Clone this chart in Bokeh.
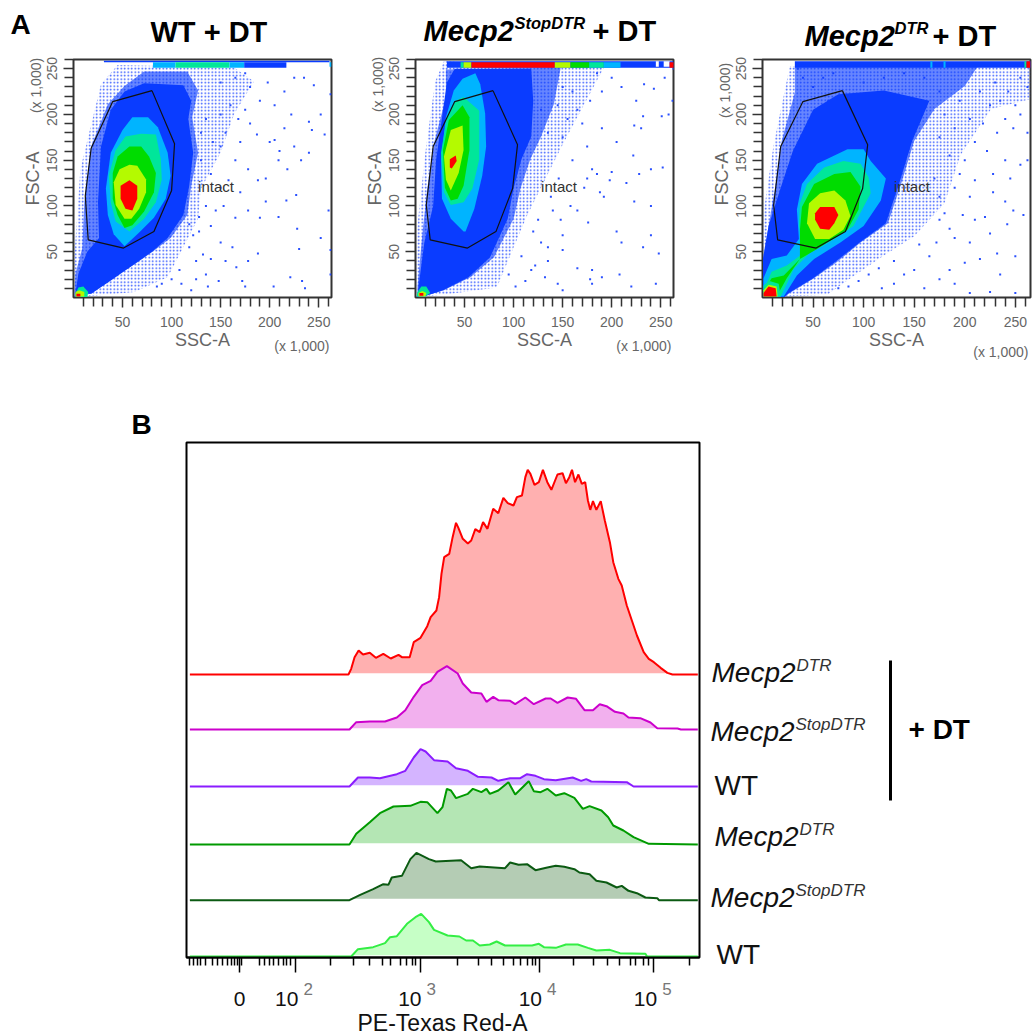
from bokeh.embed import file_html
from bokeh.resources import INLINE
from bokeh.plotting import figure
from bokeh.layouts import row, column
from bokeh.models import Label, FixedTicker, Range1d
from bokeh.core.properties import value
import math

FONT = "Liberation Sans"
C_SPECK, C_BLUE, C_CYAN, C_AQUA, C_GREEN, C_YELLOW, C_RED = "#2a50ff", "#0a3cff", "#00b4ff", "#00e69a", "#00dc00", "#b4fa00", "#ff0000"

# ---------- panel A: density bands (SSC-A, FSC-A, x1000) ----------
wt_fringe = [(0,0),(1,47),(7,140),(28,233),(45,254),(164,251),(184,236),(164,201),(150,158),(130,119),(127,86),(110,51),(96,22),(62,6),(21,2)]
wt_dense = [(1,1),(2,26),(9,54),(11,104),(18,165),(35,211),(52,231),(72,247),(116,247),(127,226),(121,197),(127,158),(120,122),(116,90),(99,65),(82,51),(62,36),(41,22),(18,4)]
wt_blue = [(2,5),(5,26),(14,50),(26,65),(25,104),(28,165),(38,205),(52,225),(72,234),(112,232),(120,215),(117,195),(122,158),(118,122),(112,90),(96,65),(80,50),(60,35),(40,20),(18,4)]
wt_cyan = [(41,69),(35,90),(33,119),(38,158),(50,183),(60,197),(76,197),(86,186),(96,158),(99,133),(94,108),(82,87),(68,72),(52,56)]
wt_aqua = [(43,83),(38,104),(36,133),(43,161),(53,176),(69,179),(84,178),(89,151),(90,129),(84,104),(72,86),(57,72)]
wt_green = [(45,90),(40,108),(40,136),(45,154),(57,165),(69,165),(77,154),(84,136),(82,115),(72,94),(60,79),(52,76)]
wt_yellow = [(52,86),(43,101),(41,126),(47,140),(57,145),(65,144),(74,129),(74,115),(67,97),(59,86)]
wt_red = [(53,97),(48,108),(48,122),(57,128),(65,122),(65,108),(60,95)]
wt_debris = [[(2,1),(2,4),(5,11),(10,12),(15,6),(14,0)], [(2,1),(2,6),(6,8),(11,6),(11,1)], [(3,1),(3,4),(7,4),(7,1)]]
wt_strip = [(31,261,257,258.5,C_BLUE),(81,104,251,257,C_CYAN),(104,159,251,257,C_AQUA),(159,174,251,257,C_CYAN),(174,217,251,257,C_BLUE),(261,263,252,257,C_CYAN)]
wt_dots = [(245,232),(252,200),(240,192),(222,200),(243,183),(262,222),(256,178),(225,165),(240,158),(210,160),(200,170),(187,178),(205,172),(215,185),(232,150),(218,140),(178,140),(188,128),(196,105),(227,112),(217,106),(190,87),(209,88),(228,75),(252,65),(230,53),(262,52),(221,22),(233,18),(236,10),(204,12),(172,18),(175,12),(166,33),(178,40),(188,48),(155,40),(140,42),(132,47),(125,40),(118,55),(140,78),(128,72),(150,60),(162,55),(145,95),(153,100),(165,87),(178,95),(196,130),(209,150),(260,95),(262,25),(148,18),(137,12),(120,8),(110,15),(100,20),(108,30),(90,15),(85,12),(125,20),(135,25),(122,68),(118,80),(135,100),(128,88),(150,120),(170,115),(158,128),(140,135),(165,150),(150,165),(130,150),(142,170),(130,180),(155,180),(170,170),(180,190),(168,195),(150,200),(135,195),(160,210),(175,205),(190,215),(205,210),(215,225),(198,235),(225,240),(235,240),(180,230),(165,240),(150,235),(175,245)]
wt_gate = [(80,226),(103,168),(100,117),(82,72),(51,54),(15,63),(12,111),(18,163),(40,214)]

stop_fringe = [(0,0),(1,69),(10,158),(20,236),(29,258),(158,251),(192,251),(172,211),(151,169),(134,133),(114,90),(97,47),(83,11),(36,4)]
stop_dense = [(2,0),(2,11),(7,69),(12,119),(19,169),(31,219),(31,249),(148,251),(141,211),(128,176),(117,151),(107,119),(100,86),(80,44),(56,22),(29,8),(5,0)]
stop_blue = [(2,0),(3,11),(9,60),(18,100),(21,150),(32,235),(40,250),(118,250),(120,215),(118,176),(108,151),(100,119),(94,86),(76,44),(54,22),(28,8),(5,0)]
stop_cyan = [(49,72),(36,86),(27,108),(26,151),(31,197),(39,226),(48,239),(61,245),(66,233),(71,201),(72,165),(68,133),(60,97),(51,72)]
stop_aqua = [(36,101),(29,115),(26,158),(32,197),(41,215),(49,219),(65,204),(65,151),(58,119),(49,104)]
stop_green = [(36,106),(30,120),(28,161),(34,194),(48,210),(55,197),(55,161),(49,122),(43,108)]
stop_yellow = [(36,117),(31,129),(29,154),(36,183),(48,188),(49,161),(44,136)]
stop_red = [(35,142),(35,151),(41,155),(42,149),(37,141)]
stop_debris = [[(1,1),(2,6),(6,12),(11,12),(15,5),(10,1)], [(3,1),(3,5),(7,7),(11,5),(10,1)], [(4,2),(4,5),(8,5),(8,2)]]
stop_strip = [(32,263,251,258,C_BLUE),(46,49,251,257,C_AQUA),(49,57,251,257,C_YELLOW),(57,142,251,257,C_RED),(142,158,251,257,C_YELLOW),(158,177,251,257,C_GREEN),(177,192,251,257,C_AQUA),(192,209,251,257,C_CYAN),(245,248,252,258,"#ffffff"),(253,259,252,258,"#ffffff"),(259,264,251,257,C_RED)]
stop_dots = [(233,233),(243,228),(254,240),(262,215),(251,198),(258,200),(232,198),(230,185),(223,188),(190,185),(205,170),(222,155),(240,140),(252,142),(228,135),(185,135),(200,137),(180,140),(175,130),(188,115),(192,110),(223,105),(158,100),(165,95),(176,82),(205,72),(210,60),(240,68),(248,48),(232,55),(148,85),(140,95),(150,68),(128,60),(135,55),(150,52),(135,40),(122,35),(118,30),(132,22),(145,15),(150,8),(178,20),(180,15),(190,22),(220,12),(245,15),(208,25),(180,30),(165,32),(112,18),(102,12),(95,25),(108,45),(120,72),(125,85),(138,110),(146,130),(160,150),(172,120),(150,175),(170,190),(165,205),(178,215),(190,225),(150,230),(185,245),(210,230),(225,215),(155,195),(135,180),(145,210),(128,205),(240,100),(263,250),(198,128),(215,125),(175,165),(160,225),(200,240)]
stop_gate = [(79,226),(104,167),(99,119),(82,72),(53,54),(15,63),(11,101),(18,165),(40,214)]

dtr_fringe = [(0,0),(1,92),(11,167),(27,253),(266,253),(266,217),(226,206),(196,156),(180,103),(150,67),(120,46),(87,21),(64,3)]
dtr_dense = [(0,0),(0,39),(6,78),(13,124),(19,171),(32,224),(32,253),(213,253),(200,231),(170,206),(150,171),(137,124),(124,81),(97,60),(74,39),(51,21),(27,5),(21,0)]
dtr_blue = [(0,0),(0,39),(6,78),(18,120),(30,160),(50,205),(75,222),(120,226),(165,215),(148,171),(135,124),(122,81),(96,60),(72,39),(50,21),(26,5),(21,0)]
dtr_cyan = [(1,21),(9,42),(24,46),(36,64),(34,96),(39,124),(54,146),(84,162),(100,162),(107,149),(122,130),(117,106),(100,78),(77,60),(51,42),(34,24),(21,1),(1,1)]
dtr_aqua = [(2,10),(9,28),(24,35),(41,49),(36,78),(37,103),(44,124),(61,142),(80,149),(97,146),(105,131),(107,114),(90,78),(71,64),(47,49),(31,31),(18,1),(2,1)]
dtr_green = [(2,9),(9,21),(21,24),(37,42),(37,74),(39,99),(51,124),(71,135),(87,137),(97,121),(95,96),(84,74),(54,53),(37,42),(24,21),(14,1),(3,1)]
dtr_yellow = [(52,64),(44,81),(46,103),(57,114),(71,117),(82,106),(87,89),(80,74),(66,64)]
dtr_red = [(52,85),(52,92),(57,99),(71,99),(75,90),(71,81),(66,74),(57,75)]
dtr_debris = [[(1,1),(1,13),(7,18),(16,15),(18,1)], [(1,1),(1,8),(6,14),(14,12),(15,1)], [(1,1),(1,5),(6,12),(13,10),(14,1)]]
dtr_strip = [(32,266,251,258,C_BLUE),(166,168,251,258,C_CYAN),(179,181,251,258,C_CYAN),(259,261,251,258,C_AQUA),(261,265,251,258,C_RED)]
dtr_dots = [(262,230),(255,240),(250,210),(243,225),(235,215),(225,210),(240,195),(255,200),(262,180),(248,185),(232,180),(218,190),(210,170),(222,160),(240,150),(255,145),(262,150),(245,130),(228,135),(210,128),(195,135),(190,120),(205,110),(228,115),(248,95),(258,90),(240,105),(220,88),(210,85),(198,90),(180,92),(175,85),(185,75),(172,60),(190,65),(205,60),(225,70),(242,80),(250,45),(232,48),(215,42),(200,38),(185,30),(175,20),(190,15),(205,5),(225,6),(250,5),(235,25),(165,45),(155,58),(150,30),(140,25),(130,15),(118,10),(160,10),(130,40),(115,32),(105,25),(95,18),(85,12),(75,10),(175,110),(170,130),(185,155),(200,150),(175,175),(190,185),(205,195),(180,200),(195,215),(215,225),(230,235),(175,225),(160,240),(140,245),(120,240),(100,235),(70,245),(60,240),(50,230),(40,240),(35,250),(60,190),(50,170),(40,180),(65,215),(55,205)]
dtr_gate = [(79,226),(104,167),(99,119),(82,72),(53,54),(15,63),(11,101),(18,165),(40,214)]

scatter_ticks = [50, 100, 150, 200, 250]
scatter_minor = [10, 20, 30, 40, 60, 70, 80, 90, 110, 120, 130, 140, 160, 170, 180, 190, 210, 220, 230, 240, 260]

# ---------- panel B: histogram traces (channel, height) ----------
trace_names = ["Mecp2DTR+DT", "Mecp2StopDTR+DT", "WT+DT", "Mecp2DTR", "Mecp2StopDTR", "WT"]
baselines = [849, 684, 513, 339, 172, 3]
line_colors = ["#ff0000", "#cc00cc", "#8a1cff", "#009a00", "#0b5a12", "#33ee44"]
fill_colors = ["#ffb0b0", "#f2b0ee", "#d4b4ff", "#b4e6b4", "#b4ccb4", "#c6ffc6"]
red_x = [28,497,505,515,527,540,560,578,600,622,645,655,678,690,710,730,740,757,765,772,780,795,805,815,822,835,850,860,872,885,895,908,925,940,955,968,985,995,1010,1020,1027,1035,1047,1060,1072,1085,1097,1115,1130,1140,1150,1158,1167,1177,1187,1197,1205,1212,1220,1230,1243,1255,1270,1280,1295,1305,1320,1335,1350,1370,1385,1400,1420,1440,1455,1530]
red_y = [0,0,17,52,72,60,65,50,62,48,59,52,52,97,110,145,172,192,232,302,352,362,412,455,440,407,393,402,436,427,457,437,497,484,530,514,507,532,537,592,614,602,569,577,614,577,554,600,604,574,592,614,577,600,572,577,522,494,520,494,520,462,397,337,287,267,207,162,117,67,47,37,20,5,0,0]
mag_x = [28,500,520,560,605,640,665,690,715,740,760,788,820,835,860,890,905,925,940,975,990,1020,1045,1080,1095,1115,1145,1170,1195,1220,1240,1260,1285,1310,1325,1360,1390,1410,1470,1480,1530]
mag_y = [0,0,22,24,24,36,58,98,133,146,173,190,168,138,111,108,83,98,88,86,76,96,76,93,93,80,96,92,58,58,76,70,53,48,36,34,21,4,3,0,0]
pur_x = [28,500,525,560,590,640,665,690,710,725,750,790,815,850,880,920,940,975,1005,1025,1050,1075,1110,1160,1185,1200,1215,1320,1340,1530]
pur_y = [0,0,27,27,25,37,47,87,112,105,79,75,55,47,29,27,17,25,25,37,32,22,19,27,17,22,15,13,0,0]
grn_x = [28,500,520,560,590,630,680,710,730,760,775,788,800,815,850,865,890,905,915,940,970,990,1030,1045,1065,1085,1110,1135,1165,1190,1210,1245,1265,1280,1310,1340,1385,1530]
grn_y = [0,0,32,67,94,114,116,128,127,94,112,167,162,139,152,167,157,167,152,162,187,150,190,160,157,167,147,154,140,107,115,102,82,57,42,22,2,0]
dkg_x = [28,500,530,570,600,615,625,655,680,698,735,755,830,860,885,960,975,1000,1025,1050,1085,1110,1135,1165,1180,1210,1230,1260,1290,1305,1325,1350,1375,1410,1415,1530]
dkg_y = [0,0,15,33,48,46,68,73,123,142,123,116,120,96,101,96,113,106,108,90,98,103,100,93,83,78,58,53,38,43,28,21,8,6,0,0]
lgt_x = [28,505,525,570,605,620,640,670,695,712,735,750,790,825,845,865,885,915,935,960,1040,1060,1075,1110,1140,1175,1205,1230,1270,1300,1375,1380,1530]
lgt_y = [0,0,22,28,40,58,61,98,118,128,103,80,63,60,48,48,33,36,45,33,33,38,28,26,36,36,26,18,20,10,8,0,0]
trace_x = [red_x, mag_x, pur_x, grn_x, dkg_x, lgt_x]
trace_y = [red_y, mag_y, pur_y, grn_y, dkg_y, lgt_y]

hist_tick_channels = [175, 340, 710, 1062, 1398]
hist_tick_labels = ["0", "10", "10", "10", "10"]
hist_tick_powers = ["", "2", "3", "4", "5"]
hist_minor = [28,40,50,60,75,95,110,125,140,150,160,170,180,235,250,262,275,290,305,315,325,443,513,560,597,622,650,668,685,695,820,880,920,955,985,1005,1025,1040,1050,1163,1222,1262,1298,1330,1345,1370,1385,1505]

# overlay sheet for every text outside a plot frame
ov = figure(width=1033, height=1036, x_range=Range1d(0, 1033), y_range=Range1d(1036, 0),
            output_backend="svg", toolbar_location=None, min_border=0, outline_line_color=None,
            background_fill_color=None, border_fill_color=None,
            styles={"position": "absolute", "left": "0px", "top": "0px", "pointer-events": "none"})
ov.axis.visible = False
ov.grid.visible = False


def lab(px, py, text, size, color="#000000", style="normal", align="left", baseline="middle", angle=0.0):
    ov.text(x=[px], y=[py], text=[text], text_font=value(FONT), text_font_size=f"{size}px", text_color=color,
            text_font_style=style, text_align=align, text_baseline=baseline, angle=angle)


def panel(fig_w, fr_l, fr_r, fr_t, fr_b, page_x, x_end, fringe, dense, bands, debris, strip, dots, gate, intact):
    p = figure(width=fig_w, height=370, x_range=Range1d(0, x_end), y_range=Range1d(0, 260),
               output_backend="svg", toolbar_location=None,
               min_border_left=fr_l - page_x, min_border_right=page_x + fig_w - fr_r,
               min_border_top=fr_t, min_border_bottom=370 - fr_b)
    p.grid.visible = False
    p.outline_line_color = "#333333"
    p.outline_line_width = 2
    p.patch([q[0] for q in fringe], [q[1] for q in fringe], fill_color=None, line_color=None,
            hatch_pattern="dot", hatch_color=C_SPECK, hatch_scale=3.5, hatch_weight=1.2)
    p.scatter([d[0] for d in dots], [d[1] for d in dots], marker="square", size=2, color=C_SPECK, line_color=None)
    p.patch([q[0] for q in dense], [q[1] for q in dense], fill_color=C_BLUE, fill_alpha=0.62, line_color=None)
    for pts, col in bands:
        p.patch([q[0] for q in pts], [q[1] for q in pts], fill_color=col, line_color=None)
    for pts, col in zip(debris, [C_AQUA, C_YELLOW, C_RED]):
        p.patch([q[0] for q in pts], [q[1] for q in pts], fill_color=col, line_color=None)
    p.quad(left=[s[0] for s in strip], right=[s[1] for s in strip], bottom=[s[2] for s in strip],
           top=[s[3] for s in strip], fill_color=[s[4] for s in strip], line_color=None)
    p.line([q[0] for q in gate] + [gate[0][0]], [q[1] for q in gate] + [gate[0][1]], line_color="#111111", line_width=1.2)
    for ax in (p.xaxis[0], p.yaxis[0]):
        ax.ticker = FixedTicker(ticks=scatter_ticks, minor_ticks=scatter_minor)
        ax.axis_line_color = "#333333"
        ax.major_tick_line_color = "#333333"
        ax.minor_tick_line_color = "#333333"
        ax.major_tick_line_width = 1.5
        ax.minor_tick_line_width = 1.5
        ax.major_tick_in = 0
        ax.minor_tick_in = 0
        ax.major_tick_out = 10
        ax.minor_tick_out = 9
        ax.major_label_text_font = FONT
        ax.major_label_text_font_size = "14px"
        ax.major_label_text_color = "#666666"
        ax.axis_label_text_font = FONT
        ax.axis_label_text_font_size = "18px"
        ax.axis_label_text_font_style = "normal"
        ax.axis_label_text_color = "#666666"
    p.xaxis[0].major_label_standoff = 9
    p.xaxis[0].axis_label_standoff = 0
    p.yaxis[0].major_label_standoff = 6
    p.yaxis[0].axis_label_standoff = 2
    p.xaxis[0].axis_label = "SSC-A"
    p.yaxis[0].axis_label = "FSC-A"
    p.yaxis[0].major_label_orientation = "vertical"
    p.add_layout(Label(x=intact[0], y=intact[1], text="intact", text_font=FONT, text_font_size="15px",
                       text_color="#333333", text_baseline="middle"))
    lab(fr_r - 2, fr_b + 48, "(x 1,000)", 14, "#666666", align="right")
    lab(fr_l - 38, fr_t + 31, "(x 1,000)", 14, "#666666", align="center", angle=math.pi / 2)
    return p


p1 = panel(350, 73, 331, 54, 297, 0, 263, wt_fringe, wt_dense,
           [(wt_blue, C_BLUE), (wt_cyan, C_CYAN), (wt_aqua, C_AQUA), (wt_green, C_GREEN), (wt_yellow, C_YELLOW), (wt_red, C_RED)],
           wt_debris, wt_strip, wt_dots, wt_gate, (127, 121))
p2 = panel(340, 415, 673, 53, 297, 350, 263, stop_fringe, stop_dense,
           [(stop_blue, C_BLUE), (stop_cyan, C_CYAN), (stop_aqua, C_AQUA), (stop_green, C_GREEN), (stop_yellow, C_YELLOW), (stop_red, C_RED)],
           stop_debris, stop_strip, stop_dots, stop_gate, (128, 121))
p3 = panel(343, 762, 1030, 59, 303, 690, 265, dtr_fringe, dtr_dense,
           [(dtr_blue, C_BLUE), (dtr_cyan, C_CYAN), (dtr_aqua, C_AQUA), (dtr_green, C_GREEN), (dtr_yellow, C_YELLOW), (dtr_red, C_RED)],
           dtr_debris, dtr_strip, dtr_dots, dtr_gate, (130, 121))

# titles of panel A
lab(10, 24, "A", 28, style="bold")
lab(150, 31, "WT + DT", 29, style="bold")
lab(423, 30, "Mecp2", 29, style="bold italic")
lab(514, 22, "StopDTR", 16.5, style="bold italic")
lab(592, 30, "+ DT", 29, style="bold")
lab(804, 35, "Mecp2", 29, style="bold italic")
lab(894, 27, "DTR", 16.5, style="bold italic")
lab(932, 35, "+ DT", 29, style="bold")
lab(131, 424, "B", 28, style="bold")

# ---------- histogram ----------
h = figure(width=1033, height=666, x_range=Range1d(18, 1535), y_range=Range1d(0, 1545),
           output_backend="svg", toolbar_location=None,
           min_border_left=186, min_border_right=334, min_border_top=72, min_border_bottom=79)
h.grid.visible = False
h.yaxis.visible = False
h.outline_line_color = "#000000"
h.outline_line_width = 2
for xs, ys, base, lc, fc in zip(trace_x, trace_y, baselines, line_colors, fill_colors):
    h.varea(x=xs, y1=[base + 4] * len(xs), y2=[base + max(v, 4) for v in ys], fill_color=fc)
    h.line(xs, [base + v for v in ys], line_color=lc, line_width=2)
ax = h.xaxis[0]
ax.ticker = FixedTicker(ticks=hist_tick_channels, minor_ticks=hist_minor)
ax.axis_line_color = "#000000"
ax.axis_line_width = 2
ax.major_tick_line_color = "#000000"
ax.minor_tick_line_color = "#000000"
ax.major_tick_line_width = 1.5
ax.minor_tick_line_width = 1.5
ax.major_tick_in = 0
ax.minor_tick_in = 0
ax.major_tick_out = 15
ax.minor_tick_out = 8
ax.major_label_overrides = {c: " " for c in hist_tick_channels}
ax.major_label_text_font_size = "1px"
ax.major_label_standoff = 0
lab(442, 1022, "PE-Texas Red-A", 23, "#111111", align="center")

hist_label_nudge = [0, 3, 1, 2.5, 4]
for ch, t, pw, nudge in zip(hist_tick_channels, hist_tick_labels, hist_tick_powers, hist_label_nudge):
    px = 186 + (ch - 18) * 513 / 1517
    if pw:
        lab(px + nudge, 998, t, 21, "#111111", align="right")
        lab(px + nudge + 5, 988, pw, 17, "#777777")
    else:
        lab(px, 998, t, 21, "#111111", align="center")

# legend of panel B
ov.line([890, 890], [660, 800], line_color="#000000", line_width=3)


def genotype(x, y, sup):
    lab(x, y, "Mecp2", 28, "#111111", style="italic")
    lab(x + 85, y - 7, sup, 17, "#333333", style="italic")


genotype(711, 672, "DTR")
genotype(710, 731, "StopDTR")
lab(714, 785, "WT", 28, "#111111")
genotype(714, 836, "DTR")
genotype(710, 897, "StopDTR")
lab(716, 954, "WT", 28, "#111111")
lab(908, 729, "+ DT", 28, "#000000", style="bold")

top = row(p1, p2, p3, spacing=0)
page = column(top, row(h, spacing=0), ov, spacing=0)
open("out.html", "w").write(file_html(page, INLINE))
